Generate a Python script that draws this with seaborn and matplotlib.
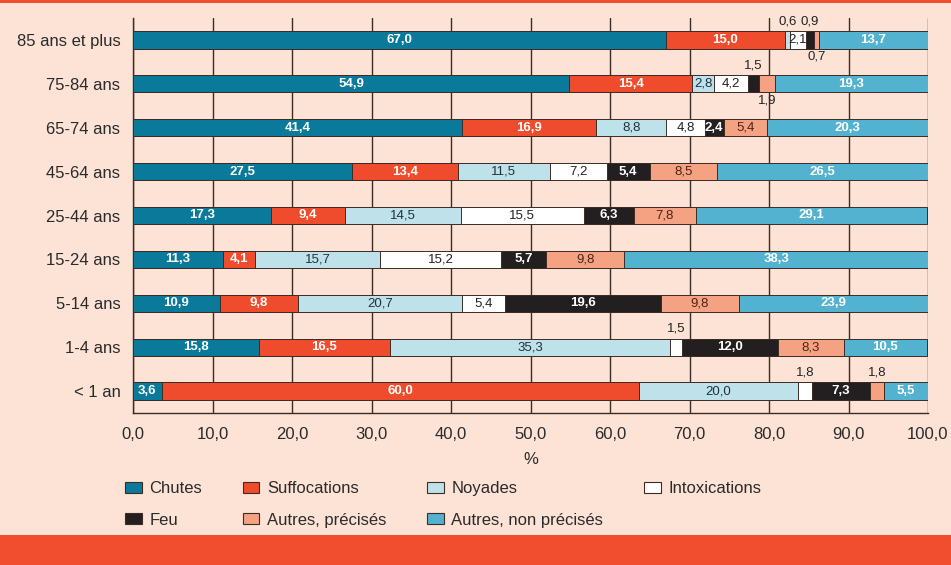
import numpy as np
import pandas as pd
import matplotlib
matplotlib.use("Agg")
import matplotlib.pyplot as plt
import seaborn as sns
from matplotlib import font_manager
from matplotlib.patches import Patch, Rectangle

# ----------------------
# DONNEES (% par cause, classes d'age de haut en bas)
# ----------------------
ages = ["85 ans et plus", "75-84 ans", "65-74 ans", "45-64 ans", "25-44 ans",
        "15-24 ans", "5-14 ans", "1-4 ans", "< 1 an"]
causes = ["Chutes", "Suffocations", "Noyades", "Intoxications", "Feu",
          "Autres, précisés", "Autres, non précisés"]

chutes = [67.0, 54.9, 41.4, 27.5, 17.3, 11.3, 10.9, 15.8, 3.6]
suffocations = [15.0, 15.4, 16.9, 13.4, 9.4, 4.1, 9.8, 16.5, 60.0]
noyades = [0.6, 2.8, 8.8, 11.5, 14.5, 15.7, 20.7, 35.3, 20.0]
intoxications = [2.1, 4.2, 4.8, 7.2, 15.5, 15.2, 5.4, 1.5, 1.8]
feu = [0.9, 1.5, 2.4, 5.4, 6.3, 5.7, 19.6, 12.0, 7.3]
autres_precises = [0.7, 1.9, 5.4, 8.5, 7.8, 9.8, 9.8, 8.3, 1.8]
autres_non_precises = [13.7, 19.3, 20.3, 26.5, 29.1, 38.3, 23.9, 10.5, 5.5]

series = [chutes, suffocations, noyades, intoxications, feu,
          autres_precises, autres_non_precises]

couleurs = ["#0b7a9a", "#ee4c2c", "#bfe1ea", "#ffffff", "#231f20",
            "#f5a283", "#52b2cf"]
couleurs_texte = ["white", "white", "#1f3140", "#222222", "white",
                  "#4a2418", "white"]

fond = "#fde3d6"
orange = "#f04e2f"
trait = "#3d2b26"

# ----------------------
# TABLE + CUMULS
# ----------------------
df = pd.DataFrame({"age": ages})
cumul = np.zeros(len(ages))
for k, vals in enumerate(series):
    cumul = cumul + np.array(vals)
    df[f"cum{k}"] = cumul

# ----------------------
# STYLE
# ----------------------
sns.set_theme(style="white")
noms = {f.name for f in font_manager.fontManager.ttflist}
police = "Liberation Sans" if "Liberation Sans" in noms else "DejaVu Sans"
police_etroite = "Liberation Sans Narrow" if "Liberation Sans Narrow" in noms else police
plt.rcParams["font.family"] = [police, "DejaVu Sans"]

fig = plt.figure(figsize=(9.51, 5.65), dpi=100, facecolor=fond)
ax = fig.add_axes([133 / 951, 1 - 413 / 565, (928 - 133) / 951, (413 - 18) / 565])
ax.set_facecolor(fond)

# barres empilees : on trace les cumuls du plus grand au plus petit
for k in range(len(causes) - 1, -1, -1):
    sns.barplot(data=df, x=f"cum{k}", y="age", order=ages, orient="h",
                color=couleurs[k], saturation=1, width=0.39, errorbar=None,
                edgecolor=trait, linewidth=0.7, ax=ax, zorder=3)

# etiquettes de valeurs
for i in range(len(ages)):
    gauche = 0.0
    prec_dessus = False
    for k, vals in enumerate(series):
        v = vals[i]
        txt = f"{v:.1f}".replace(".", ",")
        xc = gauche + v / 2
        if v < 2:
            if prec_dessus:
                ax.text(xc, i + 0.38, txt, ha="center", va="center", fontsize=9.5,
                        color="#222222", family=police_etroite, zorder=5)
                prec_dessus = False
            else:
                ax.text(xc, i - 0.42, txt, ha="center", va="center", fontsize=9.5,
                        color="#222222", family=police_etroite, zorder=5)
                prec_dessus = True
        else:
            poids = "bold" if couleurs_texte[k] == "white" else "normal"
            ax.text(xc, i, txt, ha="center", va="center", fontsize=9.5,
                    color=couleurs_texte[k], fontweight=poids,
                    family=police_etroite, zorder=5)
            prec_dessus = False
        gauche += v

# axes
ax.set_xlim(0, 100)
ax.set_ylim(len(ages) - 0.5, -0.5)
ax.set_xticks(range(0, 101, 10))
ax.set_xticklabels([f"{v:.1f}".replace(".", ",") for v in range(0, 101, 10)],
                   fontsize=12, color="#2a2a2a")
ax.set_yticks(range(len(ages)))
ax.set_yticklabels(ages, fontsize=12, color="#2a2a2a")
ax.set_yticks(np.arange(-0.5, len(ages), 1), minor=True)
ax.tick_params(axis="y", which="major", length=0, pad=9)
ax.tick_params(axis="y", which="minor", length=7, width=1, color=trait, direction="out")
ax.tick_params(axis="x", which="major", length=6, width=1, color=trait,
               direction="out", pad=4)
ax.set_ylabel("")
ax.set_xlabel("%", fontsize=12, color="#2a2a2a")
ax.xaxis.set_label_coords(0.5, -0.1)

ax.grid(axis="x", color=trait, linewidth=1)
ax.grid(axis="y", visible=False)
ax.set_axisbelow(True)
for s in ["top", "right"]:
    ax.spines[s].set_visible(False)
for s in ["left", "bottom"]:
    ax.spines[s].set_color(trait)
    ax.spines[s].set_linewidth(1)

# legende (remplie par colonnes -> ordre reorganise pour lire en lignes)
ordre = [0, 4, 1, 5, 2, 6, 3]
poignees = [Patch(facecolor=couleurs[k], edgecolor=trait, linewidth=0.8,
                  label=causes[k]) for k in ordre]
fig.legend(handles=poignees, ncol=4, loc="upper left",
           bbox_to_anchor=(125 / 951, 1 - 481 / 565), frameon=False,
           fontsize=12, handlelength=1.0, handleheight=0.65,
           handletextpad=0.45, columnspacing=2.45, labelspacing=1.0,
           borderpad=0, borderaxespad=0, labelcolor="#2a2a2a")

# bandeaux orange
fig.patches.append(Rectangle((0, 0), 1, 30 / 565, transform=fig.transFigure,
                             facecolor=orange, edgecolor="none", zorder=0))
fig.patches.append(Rectangle((0, 1 - 3 / 565), 1, 3 / 565, transform=fig.transFigure,
                             facecolor=orange, edgecolor="none", zorder=0))

fig.savefig("out.png", dpi=100, facecolor=fond)
